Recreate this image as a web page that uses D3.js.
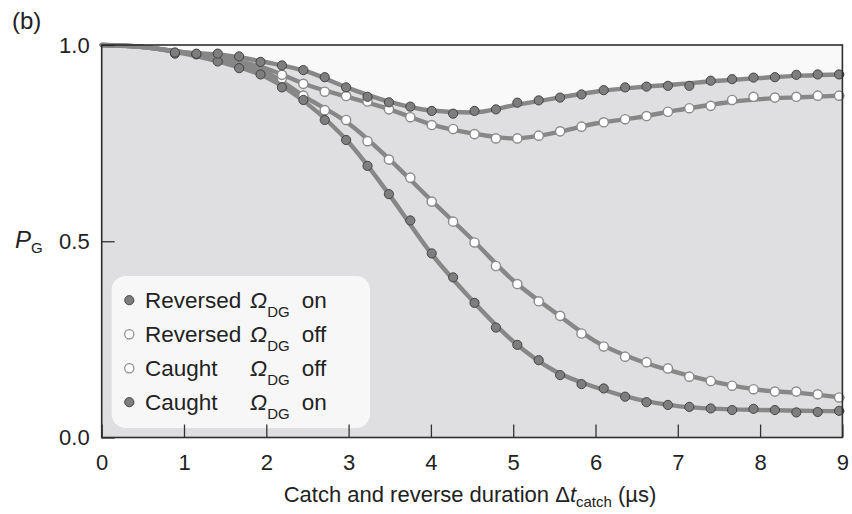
<!DOCTYPE html>
<html>
<head>
<meta charset="utf-8">
<script src="https://cdn.jsdelivr.net/npm/d3@7/dist/d3.min.js"></script>
<style>
  html, body { margin: 0; padding: 0; background: #fff; }
  svg { display: block; font-family: "Liberation Sans", Arial, Helvetica, sans-serif; }
</style>
</head>
<body>
<svg id="chart" width="852" height="514"></svg>
<script>
// ---- data ----
// measured points, catch and reverse duration in µs
const xOn = [0.89, 1.15, 1.41, 1.67, 1.93, 2.19, 2.45, 2.71, 2.97, 3.23, 3.49, 3.75, 4.01, 4.27, 4.53, 4.79,
  5.05, 5.31, 5.57, 5.83, 6.10, 6.36, 6.62, 6.88, 7.14, 7.40, 7.66, 7.92, 8.18, 8.44, 8.70, 8.96];
const xOff = [2.19, 2.45, 2.71, 2.97, 3.23, 3.49, 3.75, 4.01, 4.27, 4.53, 4.79,
  5.05, 5.31, 5.57, 5.83, 6.10, 6.36, 6.62, 6.88, 7.14, 7.40, 7.66, 7.92, 8.18, 8.44, 8.70, 8.96];

const reversedOn = [0.981, 0.978, 0.978, 0.971, 0.957, 0.948, 0.936, 0.918, 0.892, 0.868, 0.854, 0.843, 0.832, 0.825, 0.832, 0.836,
  0.853, 0.859, 0.866, 0.874, 0.885, 0.892, 0.894, 0.896, 0.896, 0.909, 0.913, 0.917, 0.918, 0.924, 0.925, 0.925];
const caughtOn = [0.978, 0.976, 0.958, 0.941, 0.925, 0.892, 0.860, 0.809, 0.758, 0.692, 0.620, 0.553, 0.469, 0.408, 0.343, 0.280,
  0.236, 0.197, 0.159, 0.136, 0.125, 0.104, 0.090, 0.083, 0.078, 0.074, 0.070, 0.073, 0.070, 0.064, 0.065, 0.068];
const reversedOff = [0.924, 0.901, 0.881, 0.870, 0.856, 0.836, 0.816, 0.796, 0.786, 0.773, 0.762,
  0.762, 0.769, 0.780, 0.792, 0.803, 0.811, 0.819, 0.830, 0.839, 0.845, 0.860, 0.868, 0.866, 0.868, 0.871, 0.871];
const caughtOff = [0.915, 0.871, 0.834, 0.809, 0.755, 0.708, 0.662, 0.601, 0.550, 0.497, 0.437,
  0.391, 0.347, 0.310, 0.265, 0.232, 0.206, 0.192, 0.176, 0.155, 0.144, 0.132, 0.123, 0.117, 0.117, 0.110, 0.102];

// theory curves, sampled every 0.5 µs
const fitX = [0, 0.5, 1, 1.5, 2, 2.5, 3, 3.5, 4, 4.5, 5, 5.5, 6, 6.5, 7, 7.5, 8, 8.5, 9];
const fitReversedOn = [1.0, 0.995, 0.982, 0.974, 0.956, 0.932, 0.890, 0.855, 0.833, 0.828, 0.846, 0.864, 0.881, 0.892, 0.900, 0.909, 0.916, 0.922, 0.925];
const fitReversedOff = [1.0, 0.995, 0.981, 0.965, 0.940, 0.898, 0.867, 0.836, 0.798, 0.775, 0.762, 0.776, 0.800, 0.815, 0.834, 0.851, 0.862, 0.867, 0.871];
const fitCaughtOff = [1.0, 0.995, 0.980, 0.960, 0.930, 0.864, 0.800, 0.708, 0.605, 0.505, 0.400, 0.320, 0.245, 0.198, 0.165, 0.139, 0.121, 0.113, 0.102];
const fitCaughtOn = [1.0, 0.995, 0.978, 0.953, 0.918, 0.850, 0.752, 0.617, 0.470, 0.350, 0.245, 0.170, 0.128, 0.098, 0.080, 0.073, 0.070, 0.068, 0.067];

const xTicks = [0, 1, 2, 3, 4, 5, 6, 7, 8, 9];
const yTicks = [0, 0.5, 1.0];

const legendRows = [
  { label: "Reversed", state: "on", filled: true },
  { label: "Reversed", state: "off", filled: false },
  { label: "Caught", state: "off", filled: false },
  { label: "Caught", state: "on", filled: true },
];

// ---- look ----
const GREY_FILL = "#dfdfe1";
const LIGHT_FILL = "#f9f9f9";
const LINE = "#878787";
const DOT_DARK = "#7e7e7e";
const INK = "#222";

const svg = d3.select("#chart");
const x = d3.scaleLinear().domain([0, 9]).range([101.7, 842.4]);
const y = d3.scaleLinear().domain([0, 1]).range([437.5, 45]);
const [x0, x1] = x.range();
const [yb, yt] = y.range();

// ---- plot background: light above the top curve, grey below it ----
svg.append("rect").attr("x", x0).attr("y", yt).attr("width", x1 - x0).attr("height", yb - yt).attr("fill", LIGHT_FILL);

const fitPts = (ys) => fitX.map((v, i) => [v, ys[i]]);
svg.append("path")
  .datum(fitPts(fitReversedOn))
  .attr("fill", GREY_FILL)
  .attr("d", d3.area().x((d) => x(d[0])).y0(yb).y1((d) => y(d[1])).curve(d3.curveMonotoneX));

// ---- theory lines ----
const line = d3.line().x((d) => x(d[0])).y((d) => y(d[1])).curve(d3.curveMonotoneX);
for (const ys of [fitCaughtOn, fitCaughtOff, fitReversedOff, fitReversedOn]) {
  svg.append("path").datum(fitPts(ys)).attr("fill", "none").attr("stroke", LINE)
    .attr("stroke-width", 4.4).attr("stroke-linecap", "round").attr("d", line);
}

// ---- measured points ----
function dots(xs, ys, filled) {
  svg.append("g").selectAll("circle").data(xs.map((v, i) => [v, ys[i]])).join("circle")
    .attr("cx", (d) => x(d[0]))
    .attr("cy", (d) => y(d[1]))
    .attr("r", 4.6)
    .attr("fill", filled ? DOT_DARK : "#fff")
    .attr("stroke", filled ? "#3c3c3c" : "#8a8a8a")
    .attr("stroke-width", filled ? 0.9 : 1.4);
}
dots(xOff, caughtOff, false);
dots(xOff, reversedOff, false);
dots(xOn, caughtOn, true);
dots(xOn, reversedOn, true);

// ---- legend ----
svg.append("rect").attr("x", 111.7).attr("y", 276).attr("width", 258.3).attr("height", 152)
  .attr("rx", 14).attr("fill", "#f7f7f7");
const lg = svg.append("g").attr("fill", INK).attr("font-size", 22.5);
legendRows.forEach((r, i) => {
  const by = 307.7 + i * 34;
  lg.append("circle").attr("cx", 129.3).attr("cy", by - 7.5).attr("r", 4.6)
    .attr("fill", r.filled ? DOT_DARK : "#fff")
    .attr("stroke", r.filled ? "#3c3c3c" : "#8a8a8a")
    .attr("stroke-width", r.filled ? 0.9 : 1.2);
  lg.append("text").attr("x", 145).attr("y", by).text(r.label);
  const om = lg.append("text").attr("x", 250).attr("y", by);
  om.append("tspan").attr("font-style", "italic").text("Ω");
  om.append("tspan").attr("font-size", 15).attr("dy", 9).text("DG");
  lg.append("text").attr("x", 301.7).attr("y", by).text(r.state);
});

// ---- axes (inward ticks) ----
const fmt = d3.format(".1f");
const xAxis = svg.append("g").attr("transform", `translate(0,${yb})`)
  .call(d3.axisBottom(x).tickValues(xTicks).tickSizeInner(-13).tickSizeOuter(0).tickPadding(17));
const yAxis = svg.append("g").attr("transform", `translate(${x0},0)`)
  .call(d3.axisLeft(y).tickValues(yTicks).tickFormat(fmt).tickSizeInner(-13).tickSizeOuter(0).tickPadding(12));
for (const g of [xAxis, yAxis]) {
  g.select(".domain").remove();
  g.selectAll(".tick line").attr("stroke", "#333").attr("stroke-width", 1.3);
  g.selectAll(".tick text").attr("fill", INK).attr("font-size", 22).attr("font-family", null);
}

// frame
svg.append("rect").attr("x", x0).attr("y", yt).attr("width", x1 - x0).attr("height", yb - yt)
  .attr("fill", "none").attr("stroke", "#2e2e2e").attr("stroke-width", 1.6);

// ---- titles ----
const xt = svg.append("text").attr("x", 470).attr("y", 502).attr("text-anchor", "middle")
  .attr("font-size", 22).attr("fill", INK);
xt.append("tspan").text("Catch and reverse duration Δ");
xt.append("tspan").attr("font-style", "italic").text("t");
xt.append("tspan").attr("font-size", 15).attr("dy", 5).text("catch");
xt.append("tspan").attr("dy", -5).text(" (µs)");

const yl = svg.append("text").attr("x", 15).attr("y", 248).attr("font-size", 24).attr("fill", INK);
yl.append("tspan").attr("font-style", "italic").text("P");
yl.append("tspan").attr("font-size", 15).attr("dy", 4.5).text("G");

svg.append("text").attr("x", 12).attr("y", 29).attr("font-size", 24).attr("fill", INK).text("(b)");
</script>
</body>
</html>
